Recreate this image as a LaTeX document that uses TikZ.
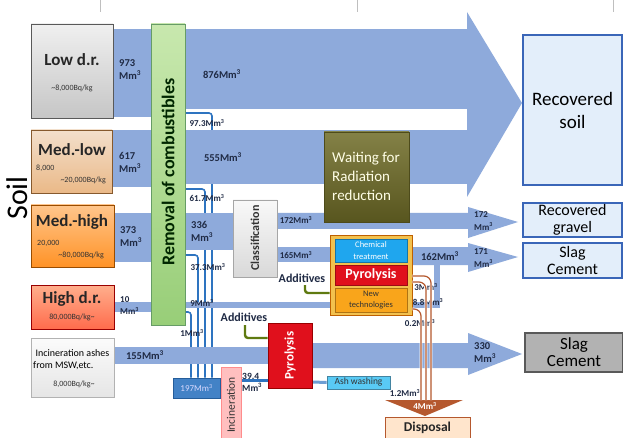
\documentclass[tikz,border=0pt]{standalone}
\usepackage{fontspec}
\setmainfont{Carlito}
\usepackage{tikz}
\pgfdeclarelayer{lines}
\pgfdeclarelayer{bands}
\pgfsetlayers{lines,bands,main}
\definecolor{bandblue}{HTML}{8EAADB}
\definecolor{flowblue}{HTML}{2E74C0}
\definecolor{rustbrown}{HTML}{B5582E}
\definecolor{olivegreen}{HTML}{5F7A10}
\definecolor{labeltext}{HTML}{1F2A44}
\definecolor{recblue}{HTML}{3A66B8}
\definecolor{recfill}{HTML}{E3EEFA}
\definecolor{treatgold}{HTML}{F2C14E}
\definecolor{chemblue}{HTML}{1FA6EE}
\definecolor{pyrored}{HTML}{E0101C}
\definecolor{newtechorange}{HTML}{F9A51B}
\definecolor{waitolive}{HTML}{6E6B26}
\definecolor{removaltop}{HTML}{C8E8AE}
\definecolor{removalbot}{HTML}{98CE78}
\newcommand{\Mmc}{Mm\textsuperscript{3}}
\newcommand{\fsz}[2]{\fontsize{#1}{#2}\selectfont}

\begin{document}
\begin{tikzpicture}[x=1pt,y=-1pt,
  box/.style={draw,line width=0.8pt,inner sep=0pt},
  ttl/.style={font=\fsz{17}{17}\bfseries,text=black!85,inner sep=0pt},
  rng/.style={font=\fsz{8}{8},text=black!80,inner sep=0pt},
  num/.style={font=\fsz{10.5}{13}\bfseries,text=labeltext,inner sep=0pt,align=left},
  small/.style={font=\fsz{9}{9}\bfseries,text=labeltext,inner sep=0pt},
  band/.style={fill=bandblue},
  flowline/.style={draw=flowblue,line width=1.6pt,rounded corners=3pt,preaction={draw=white,line width=3.2pt}},
  ashline/.style={draw=rustbrown,line width=1.2pt,rounded corners=7pt,preaction={draw=white,line width=2.6pt}},
  addline/.style={draw=olivegreen,line width=2.4pt,rounded corners=3pt},
  rec/.style={box,draw=recblue,line width=1.4pt,fill=recfill,font=\fsz{16}{16.5},align=center}]
\useasboundingbox (0,0) rectangle (623,438);

\node[box,draw=gray!70!black,top color=gray!12,bottom color=gray!45,minimum width=82pt,minimum height=94pt] (low) at (72,71) {};
\node[ttl] (lowt) at (72,60) {Low d.r.};
\node[rng] (lowr) at (72,88) {\textasciitilde 8,000Bq/kg};

\node[box,draw=brown!70!black,top color=orange!25!brown!25,bottom color=orange!40!brown!55,minimum width=81pt,minimum height=63pt] (medlow) at (71.5,161.5) {};
\node[ttl] (medlowt) at (72,150) {Med.-low};
\node[rng,anchor=west] (medlowa) at (36,168) {8,000};
\node[rng,anchor=east] (medlowb) at (106,180) {\textasciitilde 20,000Bq/kg};

\node[box,draw=orange!60!black,top color=orange!45,bottom color=orange!85,minimum width=83pt,minimum height=62pt] (medhigh) at (72.5,236) {};
\node[ttl] (medhight) at (72,222) {Med.-high};
\node[rng,anchor=west] (medhigha) at (37,243) {20,000};
\node[rng,anchor=east] (medhighb) at (104,255) {\textasciitilde 80,000Bq/kg};

\node[box,draw=red!60!black,top color=red!40!orange!45,bottom color=red!65!orange!70,minimum width=83pt,minimum height=44pt] (high) at (72.5,307) {};
\node[ttl] (hight) at (72,299) {High d.r.};
\node[rng] (highr) at (72,317) {80,000Bq/kg\textasciitilde};

\node[box,draw=gray!60,top color=gray!3,bottom color=gray!20,minimum width=83pt,minimum height=59pt] (ash) at (72.5,367.5) {};
\node[font=\fsz{10}{10},inner sep=0pt] (asht) at (72.5,353) {Incineration ashes};
\node[font=\fsz{10}{10},inner sep=0pt,anchor=west] (ashf) at (33,366) {from MSW,etc.};
\node[rng] (ashr) at (74,384) {8,000Bq/kg\textasciitilde};

\node[rotate=90,font=\fsz{30}{30},inner sep=0pt] (soil) at (17,198) {Soil};

\node[box,draw=green!35!black!60,top color=removaltop,bottom color=removalbot,minimum width=34pt,minimum height=301pt] (removal) at (168,174.5) {};
\node[rotate=90,font=\fsz{18}{18}\bfseries,text=black!85!green,inner sep=0pt] (removalt) at (168,172) {Removal of combustibles};

\node[box,draw=gray!70,top color=gray!5,bottom color=gray!30,minimum width=44pt,minimum height=77pt] (classif) at (255,238.5) {};
\node[rotate=90,font=\fsz{12}{12}\bfseries,text=black!80,inner sep=0pt] (classift) at (255,238) {Classification};

\node[box,draw=waitolive!70!black,top color=waitolive!85!white,bottom color=waitolive!80!black,minimum width=85pt,minimum height=90pt] (waiting) at (366.5,177) {};
\node[font=\fsz{15}{19},text=yellow!10!white,align=left,inner sep=0pt] (waitingt) at (366,176) {Waiting for\\Radiation\\reduction};

\node[box,draw=orange!75!black,fill=treatgold,minimum width=82pt,minimum height=80pt] (treat) at (371,275) {};
\node[box,draw=chemblue!70!black,fill=chemblue,minimum width=72pt,minimum height=23pt,font=\fsz{8.5}{12},text=white,align=center] (chem) at (371,250.5) {Chemical\\treatment};
\node[box,draw=pyrored!70!black,fill=pyrored,minimum width=72pt,minimum height=20pt,font=\fsz{14}{14}\bfseries,text=white] (pyro) at (371,275) {Pyrolysis};
\node[box,draw=newtechorange!70!black,fill=newtechorange,minimum width=72pt,minimum height=24pt,font=\fsz{8.5}{11},text=black!80,align=center] (newtech) at (371,300) {New\\technologies};

\node[box,draw=red!60!black,fill=pyrored,minimum width=44pt,minimum height=65pt] (pyrob) at (290,355.5) {};
\node[rotate=90,font=\fsz{13}{13}\bfseries,text=white,inner sep=0pt] (pyrobt) at (290,355.5) {Pyrolysis};

\node[box,draw=flowblue!80!black,fill=flowblue!90!white,minimum width=47pt,minimum height=20pt,font=\fsz{9}{9},text=blue!15!white] (box197) at (196.5,388) {197\Mmc};
\node[box,draw=red!45,fill=red!25!white,minimum width=20pt,minimum height=72pt] (incin) at (231,403) {};
\node[rotate=90,font=\fsz{11.5}{11.5},text=black!80,inner sep=0pt] (incint) at (231,405) {Incineration};
\node[box,draw=cyan!60!black,fill=cyan!65!white,minimum width=63pt,minimum height=13pt,font=\fsz{9.5}{9.5},text=black!80] (ashwash) at (358.5,382.5) {Ash washing};
\node[box,draw=rustbrown,fill=orange!20!white,minimum width=85pt,minimum height=22pt,font=\fsz{13.5}{13.5}\bfseries,text=black!85] (disposal) at (427.5,428) {Disposal};
\coordinate (funnel) at (425,400);
\fill[rustbrown] (385,400) -- (463,400) -- (425,416) -- cycle;
\node[small,text=white] (n4) at (425,406) {4\Mmc};

\node[rec,minimum width=99pt,minimum height=150pt,font=\fsz{19}{23}] (recsoil) at (572.5,110) {Recovered\\soil};
\node[rec,minimum width=99pt,minimum height=34pt] (gravel) at (572.5,220) {Recovered\\gravel};
\node[rec,minimum width=99pt,minimum height=35pt] (slaga) at (572.5,260.5) {Slag\\Cement};
\node[rec,draw=black!65,fill=gray!60,minimum width=98pt,minimum height=39pt,font=\fsz{17}{17}] (slagb) at (574,352.5) {Slag\\Cement};

\node[num,anchor=west] (n973) at (119,70) {973\\\Mmc};
\node[num] (n876) at (222,74) {876\Mmc};
\node[num,anchor=west] (n617) at (119,162) {617\\\Mmc};
\node[num] (n555) at (223,157) {555\Mmc};
\node[small] (n973s) at (207,123) {97.3\Mmc};
\node[small] (n617s) at (207,198) {61.7\Mmc};
\node[num,anchor=west] (n373) at (120,237) {373\\\Mmc};
\node[num,anchor=west] (n336) at (191,231) {336\\\Mmc};
\node[small] (n373s) at (208,267) {37.3\Mmc};
\node[small,align=left,font=\fsz{9}{12}\bfseries,anchor=west] (n10) at (120,306) {10\\\Mmc};
\node[small] (n9) at (202,303) {9\Mmc};
\node[small] (n1) at (192,333) {1\Mmc};
\node[num] (n155) at (145,355) {155\Mmc};
\node[small] (n172a) at (296,220) {172\Mmc};
\node[small] (n165) at (296,255) {165\Mmc};
\node[num] (n162) at (440,256) {162\Mmc};
\node[small,align=left,font=\fsz{9}{13}\bfseries,anchor=west] (n172b) at (474,221) {172\\\Mmc};
\node[small,align=left,font=\fsz{9}{13}\bfseries,anchor=west] (n171) at (474,258) {171\\\Mmc};
\node[num,anchor=west] (n330) at (474,353) {330\\\Mmc};
\node[small,align=left,font=\fsz{9.5}{12}\bfseries,anchor=west] (n394) at (242,382) {39.4\\\Mmc};
\node[small] (n3) at (426,287) {3\Mmc};
\node[small] (n88) at (428,302) {8.8\Mmc};
\node[small] (n02) at (420,323) {0.2\Mmc};
\node[small] (n12) at (405,393) {1.2\Mmc};

\node[font=\fsz{12}{12}\bfseries,text=labeltext,inner sep=0pt] (adda) at (302,278) {Additives};
\node[font=\fsz{12}{12}\bfseries,text=labeltext,inner sep=0pt] (addb) at (244,317) {Additives};
\draw[addline] (305,285) |- (treat.west |- 0,293);
\draw[addline] (245,325) |- (pyrob.west |- 0,338);

\draw[ashline] (treat.east |- 0,276) -| (funnel -| 431,0);
\draw[ashline] (treat.east |- 0,282) -| (funnel -| 426,0);
\draw[ashline] (treat.east |- 0,309) -| (funnel -| 421,0);

\begin{pgfonlayer}{lines}
\fill[white] (0,0) rectangle (623,438);
\draw[gray!50] (100,0) -- (100,12) (357,0) -- (357,12) (613,0) -- (613,12);
\draw[flowline] (removal.east |- 0,113) -| (box197.north -| 212,0);
\draw[flowline] (removal.east |- 0,189) -| (box197.north -| 205,0);
\draw[flowline] (removal.east |- 0,255) -| (box197.north -| 198,0);
\draw[flowline] (removal.east |- 0,312) -| (box197.north -| 191,0);
\draw[flowblue,line width=3pt] (incin.east |- 0,380) -- (pyrob.west |- 0,380);
\draw[flowblue!70,line width=3pt] (pyrob.east |- 0,382) -- (ashwash.west);
\end{pgfonlayer}

\begin{pgfonlayer}{bands}
\fill[band] (low.east |- 0,29) rectangle (468,109);
\fill[band] (low.east |- 0,109) rectangle (removal.center |- 0,117);
\fill[band] (medlow.east |- 0,130) rectangle (468,184);
\fill[band] (medlow.east |- 0,184) rectangle (removal.center |- 0,187);
\fill[band] (467,12) -- (522,103) -- (467,197) -- cycle;
\fill[band] (medhigh.east |- 0,213) rectangle (classif.center |- 0,250);
\fill[band] (medhigh.east |- 0,250) rectangle (removal.center |- 0,262);
\fill[band] (classif.center |- 0,213) -- (468,213) -- (468,207) -- (518,222) -- (468,238) -- (468,229) -- (classif.center |- 0,229) -- cycle;
\fill[band] (classif.center |- 0,247) rectangle (treat.center |- 0,262);
\fill[band] (treat.center |- 0,247) -- (468,247) -- (468,243) -- (518,257) -- (468,272) -- (468,265) -- (treat.center |- 0,265) -- cycle;
\fill[band] (high.east |- 0,302) rectangle (removal.center |- 0,312);
\draw[bandblue,line width=6pt] (removal.center |- 0,305) -| (437,262);
\fill[band] (ash.east |- 0,347) rectangle (pyrob.center |- 0,364);
\fill[band] (pyrob.center |- 0,343) -- (468,343) -- (468,333) -- (522,354) -- (468,375) -- (468,368) -- (pyrob.center |- 0,368) -- cycle;
\end{pgfonlayer}
\end{tikzpicture}
\end{document}
